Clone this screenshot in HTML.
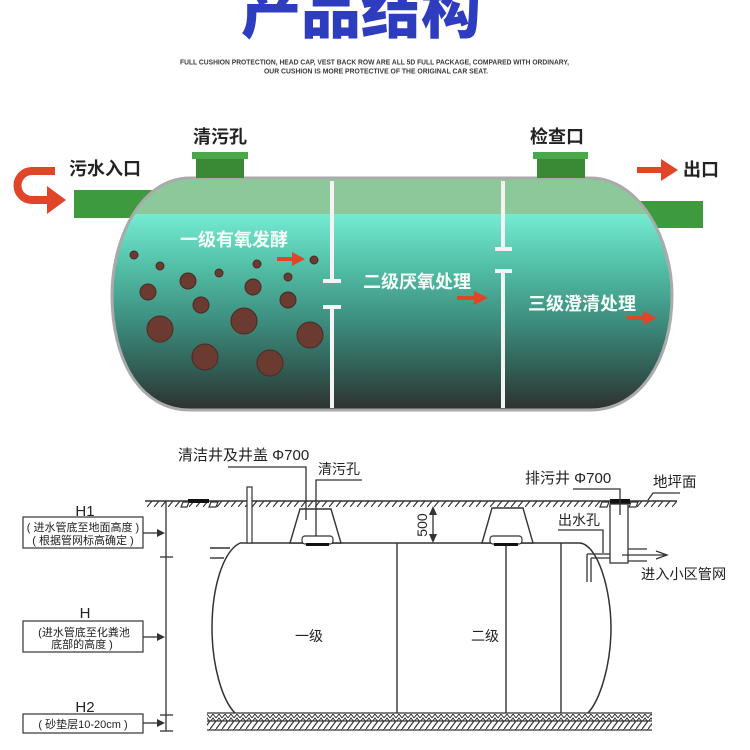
<!DOCTYPE html>
<html><head><meta charset="utf-8"><style>
html,body{margin:0;padding:0;background:#fff;}
svg{display:block;}
.cj{font-family:"Liberation Sans","Noto Sans CJK SC",sans-serif;}
</style></head><body>
<svg width="750" height="750" viewBox="0 0 750 750" xmlns="http://www.w3.org/2000/svg">
<defs>
<linearGradient id="water" x1="0" y1="214" x2="0" y2="408" gradientUnits="userSpaceOnUse">
<stop offset="0" stop-color="#74ecd2"/>
<stop offset="0.28" stop-color="#52bda5"/>
<stop offset="0.55" stop-color="#3d8e7f"/>
<stop offset="0.8" stop-color="#315d54"/>
<stop offset="1" stop-color="#2f3331"/>
</linearGradient>
<clipPath id="tankclip"><path d="M190,178 L590,178 C640,178 672,240 672,295 C672,360 640,410 590,410 L190,410 C140,410 112,360 112,295 C112,240 140,178 190,178 Z"/></clipPath>
<pattern id="hatch" x="0" y="501" width="7" height="6" patternUnits="userSpaceOnUse"><path d="M0,6 L5,0" stroke="#333" stroke-width="1.2"/></pattern>
<pattern id="zig" x="0" y="714" width="6" height="8" patternUnits="userSpaceOnUse"><path d="M0,4 L3,0 L6,4 M0,8 L3,4 L6,8" stroke="#333" stroke-width="1" fill="none"/></pattern>
<pattern id="hatch2" x="0" y="721" width="6" height="8" patternUnits="userSpaceOnUse"><path d="M0,8 L6,0" stroke="#333" stroke-width="1.2"/></pattern>
</defs>

<!-- Title -->
<text x="241" y="33" class="cj" font-size="60" font-weight="900" fill="#2e3cc0" style="font-family:'Noto Sans CJK SC',sans-serif">产品结构</text>
<text x="180" y="64.5" font-family="Liberation Sans, sans-serif" font-size="7" font-weight="700" fill="#3a3a3a" textLength="389" lengthAdjust="spacingAndGlyphs">FULL CUSHION PROTECTION, HEAD CAP, VEST BACK ROW ARE ALL 5D FULL PACKAGE, COMPARED WITH ORDINARY,</text>
<text x="264" y="73.5" font-family="Liberation Sans, sans-serif" font-size="7" font-weight="700" fill="#3a3a3a" textLength="224" lengthAdjust="spacingAndGlyphs">OUR CUSHION IS MORE PROTECTIVE OF THE ORIGINAL CAR SEAT.</text>

<!-- top labels -->
<g class="cj" font-size="18" font-weight="700" fill="#222">
<text x="193" y="143">清污孔</text>
<text x="530" y="143">检查口</text>
<text x="69" y="175">污水入口</text>
<text x="683" y="176">出口</text>
</g>

<!-- inlet arrow -->
<path d="M55,171 L32,171 A14.5,14.5 0 0 0 32,200 L52,200" stroke="#e0452a" stroke-width="8" fill="none"/>
<polygon points="47,186 66,200 47,214" fill="#e0452a"/>
<!-- outlet arrow -->
<line x1="637" y1="170" x2="664" y2="170" stroke="#e0452a" stroke-width="6"/>
<polygon points="661,159 678,170 661,181" fill="#e0452a"/>

<!-- pipes -->
<rect x="74" y="190" width="90" height="28" fill="#3e9a3e"/>
<rect x="620" y="201" width="83" height="27" fill="#3e9a3e"/>

<!-- tank -->
<g clip-path="url(#tankclip)">
<rect x="100" y="170" width="580" height="250" fill="url(#water)"/>
<rect x="100" y="170" width="580" height="44" fill="#8dc89b"/>
</g>
<path d="M190,178 L590,178 C640,178 672,240 672,295 C672,360 640,410 590,410 L190,410 C140,410 112,360 112,295 C112,240 140,178 190,178 Z" fill="none" stroke="#aaaaaa" stroke-width="3"/>

<!-- caps -->
<rect x="192" y="152" width="56" height="7" fill="#4aa84a"/>
<rect x="196" y="159" width="48" height="19" fill="#3a8a35"/>
<rect x="533" y="152" width="55" height="7" fill="#4aa84a"/>
<rect x="537" y="159" width="48" height="19" fill="#3a8a35"/>

<!-- walls -->
<g fill="#f4f4f4">
<rect x="330" y="181" width="4" height="100"/>
<rect x="323" y="279" width="18" height="4"/>
<rect x="323" y="305" width="18" height="4"/>
<rect x="330" y="307" width="4" height="101"/>
<rect x="501" y="181" width="4" height="68"/>
<rect x="495" y="247" width="17" height="4"/>
<rect x="495" y="269" width="17" height="4"/>
<rect x="501" y="271" width="4" height="137"/>
</g>

<!-- dots -->
<g fill="#6b3a30" stroke="#4a2a24" stroke-width="1">
<circle cx="134" cy="255" r="4"/>
<circle cx="160" cy="266" r="4"/>
<circle cx="188" cy="281" r="8"/>
<circle cx="219" cy="273" r="4"/>
<circle cx="257" cy="264" r="4"/>
<circle cx="288" cy="277" r="4"/>
<circle cx="314" cy="260" r="4"/>
<circle cx="148" cy="292" r="8"/>
<circle cx="253" cy="287" r="8"/>
<circle cx="201" cy="305" r="8"/>
<circle cx="288" cy="300" r="8"/>
<circle cx="160" cy="329" r="13"/>
<circle cx="244" cy="321" r="13"/>
<circle cx="310" cy="335" r="13"/>
<circle cx="205" cy="357" r="13"/>
<circle cx="270" cy="363" r="13"/>
</g>

<!-- tank text -->
<g class="cj" font-size="18" font-weight="700" fill="#f4fff8">
<text x="180" y="246">一级有氧发酵</text>
<text x="363" y="288">二级厌氧处理</text>
<text x="528" y="310">三级澄清处理</text>
</g>
<!-- small arrows -->
<g fill="#e0452a" stroke="#e0452a">
<line x1="277" y1="259" x2="294" y2="259" stroke-width="4"/>
<polygon points="292,252 305,259 292,266" stroke="none"/>
<line x1="457" y1="298" x2="476" y2="298" stroke-width="4"/>
<polygon points="474,291 488,298 474,305" stroke="none"/>
<line x1="627" y1="318" x2="645" y2="318" stroke-width="4"/>
<polygon points="643,311 657,318 643,325" stroke="none"/>
</g>

<!-- ===== bottom diagram ===== -->
<g stroke="#333" stroke-width="1.4" fill="none">
<line x1="145" y1="501" x2="677" y2="501"/>
</g>
<rect x="145" y="501" width="532" height="6" fill="url(#hatch)"/>
<rect x="188" y="499" width="21" height="4" fill="#111"/>
<rect x="610" y="499" width="20" height="5" fill="#111"/>
<g stroke="#333" stroke-width="1.2" fill="#fff">
<polygon points="183,502 189,502 187,507 181,507"/>
<polygon points="211,502 218,502 216,507 209,507"/>
<polygon points="602,502 609,502 607,507 600,507"/>
<polygon points="631,502 638,502 636,507 629,507"/>
</g>

<!-- tank outline -->
<path d="M240,543 L580,543 C598,545 611,590 611,628 C611,665 600,700 588,713 M235,713 C222,700 212,665 212,628 C212,590 222,552 240,543" fill="#fff" stroke="#333" stroke-width="1.5"/>
<g stroke="#333" stroke-width="1.4">
<line x1="397" y1="543" x2="397" y2="713"/>
<line x1="506" y1="545" x2="506" y2="713"/>
<line x1="561" y1="543" x2="561" y2="713"/>
<line x1="210" y1="548" x2="230" y2="548"/>
<line x1="210" y1="558" x2="224" y2="558"/>
</g>
<!-- post -->
<rect x="247" y="487" width="5" height="56" fill="#fff" stroke="#333" stroke-width="1.2"/>
<!-- trapezoids -->
<polygon points="290,543 300,509 331,509 341,543" fill="#fff" stroke="#333" stroke-width="1.4"/>
<polygon points="482,543 492,508 523,508 533,543" fill="#fff" stroke="#333" stroke-width="1.4"/>
<rect x="302" y="536" width="31" height="8" rx="3" fill="#fff" stroke="#333" stroke-width="1.2"/>
<rect x="306" y="543" width="23" height="3" fill="#111"/>
<rect x="490" y="536" width="32" height="8" rx="3" fill="#fff" stroke="#333" stroke-width="1.2"/>
<rect x="494" y="543" width="24" height="3" fill="#111"/>

<!-- well -->
<rect x="610" y="504" width="18" height="59" fill="#fff" stroke="#333" stroke-width="1.3"/>
<g stroke="#333" stroke-width="1.3" fill="none">
<line x1="587" y1="554" x2="610" y2="554"/>
<line x1="591" y1="558" x2="610" y2="558"/>
<line x1="587" y1="554" x2="587" y2="582"/>
<line x1="591" y1="558" x2="591" y2="582"/>
<line x1="628" y1="549" x2="647" y2="549"/>
<line x1="628" y1="561" x2="647" y2="561"/>
<line x1="622" y1="555" x2="667" y2="555"/>
<polyline points="656,551 667,555 656,559"/>
<polyline points="228,467 306,467 306,520"/>
<polyline points="362,480 316,480 316,536"/>
<polyline points="573,489 620,489 620,515"/>
<polyline points="558,530 603,530 603,553"/>
<polyline points="680,493 653,493 648,500"/>
<line x1="166" y1="501" x2="166" y2="731"/>
<line x1="160" y1="557" x2="173" y2="557"/>
<line x1="160" y1="715" x2="173" y2="715"/>
<line x1="160" y1="731" x2="173" y2="731"/>
<line x1="433" y1="510" x2="433" y2="540"/>
</g>
<polygon points="433,506 429,515 437,515" fill="#333"/>
<polygon points="433,543 429,534 437,534" fill="#333"/>

<!-- base -->
<g stroke="#333" stroke-width="1.2">
<line x1="207" y1="713" x2="652" y2="713"/>
<line x1="207" y1="721" x2="652" y2="721"/>
<line x1="207" y1="730" x2="652" y2="730"/>
</g>
<rect x="207" y="714" width="445" height="7" fill="url(#zig)"/>
<rect x="207" y="721" width="445" height="9" fill="url(#hatch2)"/>

<!-- left boxes -->
<g fill="#fff" stroke="#333" stroke-width="1.2">
<rect x="23" y="517" width="120" height="31"/>
<rect x="23" y="621" width="120" height="31"/>
<rect x="23" y="714" width="120" height="19"/>
</g>
<g stroke="#333" stroke-width="1.3">
<line x1="143" y1="533" x2="158" y2="533"/>
<line x1="143" y1="637" x2="158" y2="637"/>
<line x1="143" y1="723" x2="158" y2="723"/>
</g>
<g fill="#333">
<polygon points="157,529 165,533 157,537"/>
<polygon points="157,633 165,637 157,641"/>
<polygon points="157,719 165,723 157,727"/>
</g>

<!-- bottom texts -->
<g class="cj" fill="#222">
<text x="85" y="516" font-size="15" text-anchor="middle">H1</text>
<text x="85" y="618" font-size="15" text-anchor="middle">H</text>
<text x="85" y="712" font-size="15" text-anchor="middle">H2</text>
<text x="83" y="531" font-size="11" text-anchor="middle">( 进水管底至地面高度 )</text>
<text x="83" y="544" font-size="11" text-anchor="middle">( 根据管网标高确定 )</text>
<text x="84" y="636" font-size="11" text-anchor="middle">(进水管底至化粪池</text>
<text x="82" y="648" font-size="11" text-anchor="middle">底部的高度 )</text>
<text x="83" y="728" font-size="11" text-anchor="middle">( 砂垫层10-20cm )</text>
<text x="178" y="460" font-size="15">清洁井及井盖 Φ700</text>
<text x="318" y="474" font-size="14">清污孔</text>
<text x="525" y="483" font-size="15">排污井 Φ700</text>
<text x="653" y="487" font-size="14.5">地坪面</text>
<text x="558" y="525" font-size="14">出水孔</text>
<text x="641" y="579" font-size="14.2">进入小区管网</text>
<text x="295" y="641" font-size="14">一级</text>
<text x="471" y="641" font-size="14">二级</text>
<text x="427" y="525" font-size="14" text-anchor="middle" transform="rotate(-90 427 525)">500</text>
</g>
</svg>
</body></html>
